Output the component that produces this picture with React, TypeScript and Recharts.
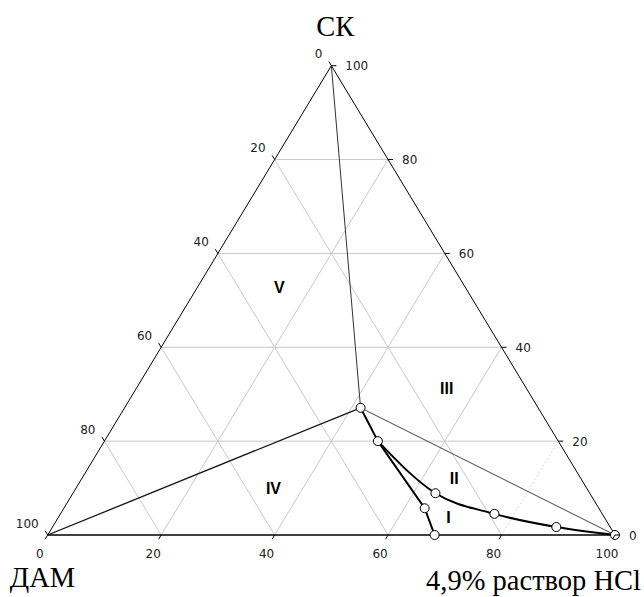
import { ComposedChart, Line, Scatter, XAxis, YAxis } from "recharts";

// ternary: HCl (bottom axis), СК (right axis), ДАМ = 100 - HCl - СК (left axis)
const tickValues = [0, 20, 40, 60, 80, 100];
const gridValues = [20, 40, 60, 80];

// experimental curves, % HCl / % СК
const stemHcl = [41.6, 48.2];
const stemSk = [27.1, 20.0];
const branchIHcl = [48.2, 63.6, 68.2];
const branchISk = [20.0, 5.7, 0];
const branchIIHcl = [48.2, 63.9, 76.5, 88.8, 100];
const branchIISk = [20.0, 8.9, 4.5, 1.7, 0];

const regionNames = ["I", "II", "III", "IV", "V"];
const regionHcl = [68.7, 65.6, 54.7, 34.8, 14.4];
const regionSk = [3.9, 12.1, 31.3, 10.0, 52.9];

const vertexNames = ["СК", "ДАМ", "4,9% раствор HCl"];
const vertexHcl = [0, 0, 100];
const vertexSk = [100, 0, 0];

const pt = (hcl: number, sk: number) => ({ x: hcl + sk / 2, y: sk });
const series = (hcl: number[], sk: number[]) => hcl.map((h, i) => pt(h, sk[i]));

const stem = series(stemHcl, stemSk);
const branchI = series(branchIHcl, branchISk);
const branchII = series(branchIIHcl, branchIISk);
const junction = stem[0];

const gridLines = [
  ...gridValues.map((k) => ({ key: `sk${k}`, pts: [pt(0, k), pt(100 - k, k)], dash: false })),
  ...gridValues.map((k) => ({ key: `hcl${k}`, pts: [pt(k, 0), pt(k, 100 - k)], dash: k === 80 })),
  ...gridValues.map((k) => ({ key: `dam${k}`, pts: [pt(100 - k, 0), pt(0, 100 - k)], dash: false })),
];

const sides = [
  { key: "left", pts: [pt(0, 0), pt(0, 100)], w: 1 },
  { key: "right", pts: [pt(0, 100), pt(100, 0)], w: 1 },
  { key: "bottom", pts: [pt(0, 0), pt(100, 0)], w: 1.6 },
];

const boundaries = [
  { key: "toSk", pts: [pt(0, 100), junction], color: "#333", w: 1 },
  { key: "toDam", pts: [pt(0, 0), junction], color: "#111", w: 1.3 },
  { key: "toHcl", pts: [junction, pt(100, 0)], color: "#444", w: 1 },
];

const ticks = [
  ...tickValues.map((v) => ({ ...pt(v, 0), label: v, side: "bottom" })),
  ...tickValues.map((v) => ({ ...pt(0, 100 - v), label: v, side: "left" })),
  ...tickValues.map((v) => ({ ...pt(100 - v, v), label: v, side: "right" })),
];

const regions = regionNames.map((n, i) => ({ ...pt(regionHcl[i], regionSk[i]), label: n }));
const vertices = vertexNames.map((n, i) => ({ ...pt(vertexHcl[i], vertexSk[i]), label: n, idx: i }));
const dots = [...stem, ...branchI.slice(1), ...branchII.slice(1)];

const tickFont = { fontFamily: "DejaVu Sans", fontSize: 12, fill: "#222" };

const TickShape = (props: any) => {
  const { cx, cy, payload } = props;
  if (payload.side === "bottom") {
    return (
      <g>
        <line x1={cx} y1={cy} x2={cx - 2.5} y2={cy + 4.2} stroke="#000" />
        <text x={cx - 8} y={cy + 22.5} textAnchor="middle" {...tickFont}>{payload.label}</text>
      </g>
    );
  }
  if (payload.side === "left") {
    return (
      <g>
        <line x1={cx} y1={cy} x2={cx - 2.5} y2={cy - 4.2} stroke="#000" />
        <text x={cx - 9} y={cy - 7.5} textAnchor="end" {...tickFont}>{payload.label}</text>
      </g>
    );
  }
  return (
    <g>
      <line x1={cx} y1={cy} x2={cx + 5} y2={cy} stroke="#000" />
      <text x={cx + 14} y={cy + 4.5} textAnchor="start" {...tickFont}>{payload.label}</text>
    </g>
  );
};

const RegionShape = (props: any) => (
  <text x={props.cx} y={props.cy + 6} textAnchor="middle" fontFamily="Liberation Sans" fontWeight="bold" fontSize={16} fill="#000">
    {props.payload.label}
  </text>
);

const VertexShape = (props: any) => {
  const { cx, cy, payload } = props;
  const pos = [
    { dx: 4, dy: -30, anchor: "middle" },
    { dx: -38, dy: 52, anchor: "start" },
    { dx: 26, dy: 55, anchor: "end" },
  ][payload.idx];
  return (
    <text x={cx + pos.dx} y={cy + pos.dy} textAnchor={pos.anchor} fontFamily="Liberation Serif" fontSize={28.5} fill="#000">
      {payload.label}
    </text>
  );
};

const DotShape = (props: any) => (
  <circle cx={props.cx} cy={props.cy} r={4.5} fill="#fff" stroke="#000" strokeWidth={1} />
);

export default function App() {
  return (
    <div style={{ position: "absolute", left: 0, top: 0 }}>
      <ComposedChart width={644} height={597} margin={{ top: 65.7, right: 29, bottom: 62, left: 47.7 }}>
        <XAxis type="number" dataKey="x" domain={[0, 100]} hide />
        <YAxis type="number" dataKey="y" domain={[0, 100]} hide />
        {gridLines.map((g) => (
          <Line
            key={g.key}
            data={g.pts}
            dataKey="y"
            type="linear"
            stroke={g.dash ? "#d8d8d8" : "#c8c8c8"}
            strokeDasharray={g.dash ? "2 2" : undefined}
            strokeWidth={1}
            dot={false}
            isAnimationActive={false}
          />
        ))}
        {sides.map((s) => (
          <Line key={s.key} data={s.pts} dataKey="y" type="linear" stroke="#000" strokeWidth={s.w} dot={false} isAnimationActive={false} />
        ))}
        {boundaries.map((b) => (
          <Line key={b.key} data={b.pts} dataKey="y" type="linear" stroke={b.color} strokeWidth={b.w} dot={false} isAnimationActive={false} />
        ))}
        <Line data={stem} dataKey="y" type="linear" stroke="#000" strokeWidth={2} dot={false} isAnimationActive={false} />
        <Line data={branchI} dataKey="y" type="linear" stroke="#000" strokeWidth={2} dot={false} isAnimationActive={false} />
        <Line data={branchII} dataKey="y" type="monotone" stroke="#000" strokeWidth={2} dot={false} isAnimationActive={false} />
        <Scatter data={dots} dataKey="y" shape={DotShape} isAnimationActive={false} />
        <Scatter data={ticks} dataKey="y" shape={TickShape} isAnimationActive={false} />
        <Scatter data={regions} dataKey="y" shape={RegionShape} isAnimationActive={false} />
        <Scatter data={vertices} dataKey="y" shape={VertexShape} isAnimationActive={false} />
      </ComposedChart>
    </div>
  );
}
